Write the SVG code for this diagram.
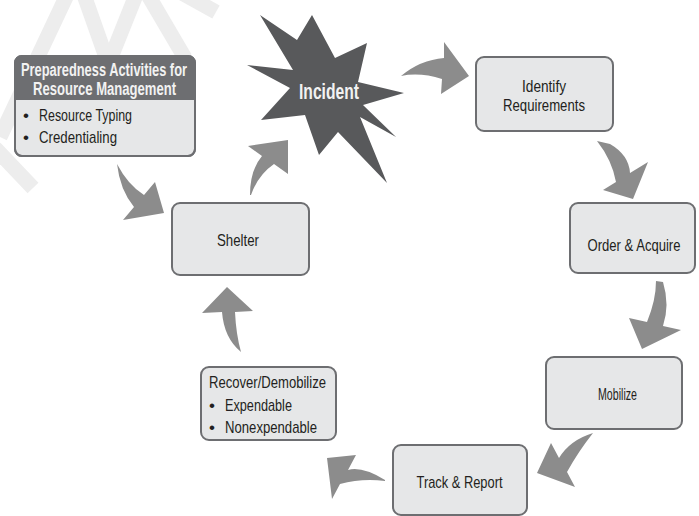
<svg xmlns="http://www.w3.org/2000/svg" width="699" height="516" viewBox="0 0 699 516">
  <style>
    .box { fill: #e6e7e8; stroke: #6d6e71; stroke-width: 2; }
    .hdr { fill: #6d6e71; }
    .arrow { fill: #8c8c8c; }
    .wm { stroke: #ededed; stroke-width: 15; fill: none; stroke-linecap: butt; }
    text { font-family: "Liberation Sans", Arial, sans-serif; }
    .lbl { font-size: 17px; fill: #231f20; }
    .hdrtxt { font-size: 17.5px; fill: #f2f2f2; font-weight: bold; }
    .star { font-size: 22px; fill: #f2f2f2; font-weight: bold; }
  </style>

  <rect width="699" height="516" fill="#ffffff"/>

  <!-- faint background watermark strokes -->
  <g id="watermark">
    <line class="wm" x1="67" y1="-5" x2="0" y2="137"/>
    <line class="wm" x1="-5" y1="148" x2="33" y2="188"/>
    <line class="wm" x1="84" y1="-5" x2="107" y2="60"/>
    <line class="wm" x1="136" y1="-5" x2="110" y2="60"/>
    <line class="wm" x1="148" y1="-5" x2="185" y2="58"/>
    <line class="wm" x1="180" y1="-8" x2="216" y2="12"/>
  </g>

  <!-- cycle connectors -->
  <g id="connectors">
    <path class="arrow" d="M401,76 Q420,60 444,58 L444,42 L469,76 L441,94 L442,79 Q420,72 401,76 Z"/>
    <path class="arrow" d="M597,141 L610,144 Q629,155 630,173 L648,162 L633,199 L603,190 L616,182 Q612,160 597,141 Z"/>
    <path class="arrow" d="M656,281 L663,282 Q670,305 663,326 L681,330 L642,349 L629,318 L647,322 Q656,300 656,281 Z"/>
    <path class="arrow" d="M593,433 Q570,440 559,458 L551,443 L537,473 L575,487 L567,472 Q578,452 593,433 Z"/>
    <path class="arrow" d="M385,480 Q362,466 348,470 L356,455 L327,458 L332,499 L340,484 Q362,478 385,481 Z"/>
    <path class="arrow" d="M241,352 Q224,338 222,312 L202,313 L227,287 L253,311 L235,312 Q236,334 241,352 Z"/>
    <path class="arrow" d="M117,164 Q128,185 144,195 L155,182 L164,213 L123,220 L134,207 Q120,190 117,164 Z"/>
    <path class="arrow" d="M250,195 Q250,170 262,156 L248,146 L288,140 L288,174 L274,164 Q258,175 251,195 Z"/>
  </g>

  <g id="preparedness">
    <rect class="box" x="15" y="56" width="180" height="100" rx="7"/>
    <path class="hdr" d="M15,100 L15,63 Q15,56 22,56 L188,56 Q195,56 195,63 L195,100 Z"/>
    <rect x="15" y="56" width="180" height="100" rx="7" fill="none" stroke="#6d6e71" stroke-width="2"/>
    <text class="hdrtxt" x="104" y="76" text-anchor="middle" textLength="166" lengthAdjust="spacingAndGlyphs">Preparedness Activities for</text>
    <text class="hdrtxt" x="104.5" y="95" text-anchor="middle" textLength="143" lengthAdjust="spacingAndGlyphs">Resource Management</text>
    <text class="lbl" x="23" y="121">•</text>
    <text class="lbl" x="39" y="121" textLength="93" lengthAdjust="spacingAndGlyphs">Resource Typing</text>
    <text class="lbl" x="23" y="143">•</text>
    <text class="lbl" x="39" y="143" textLength="78" lengthAdjust="spacingAndGlyphs">Credentialing</text>
  </g>

  <g id="incident">
    <polygon fill="#58595b" points="260,15 297,40 312,15 335,58 367,43 358,82 404,93 363,105 396,137 360,117 387,183 338,132 319,155 305,115 261,120 290,88 247,65 293,70"/>
    <text class="star" x="329" y="99" text-anchor="middle" textLength="60" lengthAdjust="spacingAndGlyphs">Incident</text>
  </g>

  <g id="identify">
    <rect class="box" x="476" y="57" width="137" height="74" rx="8"/>
    <text class="lbl" x="544" y="92" text-anchor="middle" textLength="44" lengthAdjust="spacingAndGlyphs">Identify</text>
    <text class="lbl" x="544" y="111" text-anchor="middle" textLength="82" lengthAdjust="spacingAndGlyphs">Requirements</text>
  </g>

  <g id="order">
    <rect class="box" x="570" y="203" width="125" height="70" rx="8"/>
    <text class="lbl" x="634" y="251" text-anchor="middle" font-size="16" textLength="93" lengthAdjust="spacingAndGlyphs">Order &amp; Acquire</text>
  </g>

  <g id="mobilize">
    <rect class="box" x="546" y="357" width="136" height="72" rx="8"/>
    <text class="lbl" x="617.5" y="400" text-anchor="middle" textLength="39" lengthAdjust="spacingAndGlyphs">Mobilize</text>
  </g>

  <g id="track">
    <rect class="box" x="393" y="445" width="134" height="70" rx="8"/>
    <text class="lbl" x="459.5" y="488" text-anchor="middle" textLength="86" lengthAdjust="spacingAndGlyphs">Track &amp; Report</text>
  </g>

  <g id="recover">
    <rect class="box" x="201" y="367" width="135" height="73" rx="8"/>
    <text class="lbl" x="209" y="388" textLength="117" lengthAdjust="spacingAndGlyphs">Recover/Demobilize</text>
    <text class="lbl" x="209" y="411">•</text>
    <text class="lbl" x="225" y="411" textLength="67" lengthAdjust="spacingAndGlyphs">Expendable</text>
    <text class="lbl" x="209" y="433">•</text>
    <text class="lbl" x="225" y="433" textLength="92" lengthAdjust="spacingAndGlyphs">Nonexpendable</text>
  </g>

  <g id="shelter">
    <rect class="box" x="172" y="203" width="137" height="72" rx="8"/>
    <text class="lbl" x="238" y="246" text-anchor="middle" textLength="42" lengthAdjust="spacingAndGlyphs">Shelter</text>
  </g>
</svg>
